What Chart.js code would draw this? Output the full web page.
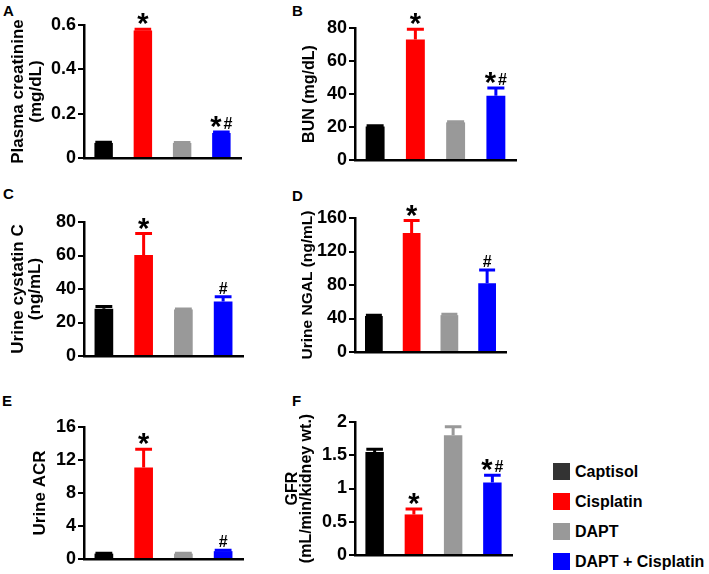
<!DOCTYPE html>
<html>
<head>
<meta charset="utf-8">
<script src="https://cdn.jsdelivr.net/npm/chart.js@4"></script>
<style>
body { margin:0; width:709px; height:574px; overflow:hidden; background:#fff; position:relative; font-family:'Liberation Sans', Arial, sans-serif; }
canvas { position:absolute; }
.letter { position:absolute; font-weight:bold; font-size:15px; line-height:15px; color:#000; }
.legend { position:absolute; left:553px; display:flex; align-items:center; font-weight:bold; font-size:16px; line-height:17px; color:#000; }
.legend span { display:inline-block; width:17px; height:17px; margin-right:5px; }
</style>
</head>
<body>
<div class="letter" style="left:3px;top:3px">A</div>
<div class="letter" style="left:292px;top:3px">B</div>
<div class="letter" style="left:3px;top:186px">C</div>
<div class="letter" style="left:292px;top:188px">D</div>
<div class="letter" style="left:2px;top:393px">E</div>
<div class="letter" style="left:292px;top:393px">F</div>

<canvas id="chartA" width="250" height="180" style="left:0;top:0"></canvas>
<canvas id="chartB" width="250" height="180" style="left:270px;top:0"></canvas>
<canvas id="chartC" width="250" height="195" style="left:0;top:185px"></canvas>
<canvas id="chartD" width="250" height="195" style="left:270px;top:185px"></canvas>
<canvas id="chartE" width="250" height="200" style="left:0;top:385px"></canvas>
<canvas id="chartF" width="250" height="200" style="left:270px;top:385px"></canvas>

<div id="legend"></div>

<script>
// groups and colours
const groups = ['Captisol', 'Cisplatin', 'DAPT', 'DAPT + Cisplatin'];
const barColors = ['#000000', '#ff0000', '#999999', '#0000ff'];
const legendColors = ['#333333', '#ff0000', '#999999', '#0000ff'];

// A - plasma creatinine
const creatinine = [0.068, 0.575, 0.068, 0.113];
const creatinineErr = [0.003, 0.006, 0.002, 0.004];
const creatinineMarks = ['', '*', '', '*#'];
const creatinineTicks = ['0', '0.2', '0.4', '0.6'];

// B - BUN
const bun = [20.3, 73, 22.8, 39];
const bunErr = [0.5, 6.3, 0.4, 4.7];
const bunMarks = ['', '*', '', '*#'];
const bunTicks = ['0', '20', '40', '60', '80'];

// C - urine cystatin C
const cystatin = [28.2, 60.3, 27.8, 32.6];
const cystatinErr = [1.4, 12.8, 0.3, 2.7];
const cystatinMarks = ['', '*', '', '#'];
const cystatinTicks = ['0', '20', '40', '60', '80'];

// D - urine NGAL
const ngal = [43, 142, 44, 82];
const ngalErr = [1, 15, 1, 16];
const ngalMarks = ['', '*', '', '#'];
const ngalTicks = ['0', '40', '80', '120', '160'];

// E - urine ACR
const acr = [0.65, 11.1, 0.65, 0.95];
const acrErr = [0.05, 2.2, 0.05, 0.1];
const acrMarks = ['', '*', '', '#'];
const acrTicks = ['0', '4', '8', '12', '16'];

// F - GFR
const gfr = [1.55, 0.61, 1.8, 1.09];
const gfrErr = [0.04, 0.08, 0.13, 0.11];
const gfrMarks = ['', '*', '', '*#'];
const gfrTicks = ['0', '0.5', '1', '1.5', '2'];

Chart.defaults.font.family = "'Liberation Sans', Arial, sans-serif";
Chart.defaults.color = '#000';

function errorPlugin(values, errors, marks) {
    return {
        id: 'errorBars',
        afterDatasetsDraw(chart) {
            const ctx = chart.ctx;
            const yScale = chart.scales.y;
            chart.getDatasetMeta(0).data.forEach((bar, i) => {
                const top = yScale.getPixelForValue(values[i] + errors[i]);
                const half = bar.width * 0.45;
                ctx.save();
                ctx.strokeStyle = barColors[i];
                ctx.lineWidth = 3;
                ctx.beginPath();
                ctx.moveTo(bar.x, bar.y);
                ctx.lineTo(bar.x, top);
                ctx.moveTo(bar.x - half, top);
                ctx.lineTo(bar.x + half, top);
                ctx.stroke();

                // significance marks
                const bottom = top - 3;
                ctx.fillStyle = '#000';
                ctx.textAlign = 'center';
                ctx.textBaseline = 'alphabetic';
                const star = (x) => {
                    ctx.font = "bold 29px 'Liberation Sans', Arial, sans-serif";
                    ctx.fillText('*', x, bottom + 7);
                };
                const hash = (x) => {
                    ctx.font = "bold 16px 'Liberation Sans', Arial, sans-serif";
                    ctx.fillText('#', x, bottom);
                };
                if (marks[i] === '*') star(bar.x);
                if (marks[i] === '#') hash(bar.x);
                if (marks[i] === '*#') { star(bar.x - 5.5); hash(bar.x + 6.5); }
                ctx.restore();
            });
        }
    };
}

function createPanel(id, p) {
    new Chart(document.getElementById(id), {
        type: 'bar',
        data: {
            labels: groups,
            datasets: [{
                data: p.values,
                backgroundColor: barColors,
                borderWidth: 0,
                barPercentage: 0.47,
                categoryPercentage: 1,
            }],
        },
        options: {
            responsive: false,
            animation: false,
            layout: { padding: p.padding },
            plugins: { legend: { display: false }, tooltip: { enabled: false } },
            scales: {
                x: {
                    grid: { display: false },
                    ticks: { display: false },
                    border: { display: true, color: '#000', width: 2.5 },
                },
                y: {
                    min: 0,
                    max: p.max,
                    ticks: {
                        stepSize: p.step,
                        color: '#000',
                        padding: 2,
                        font: { size: 18, weight: 'bold' },
                        callback: (v, i) => p.ticks[i],
                    },
                    grid: { drawOnChartArea: false, tickLength: 6, color: '#000', lineWidth: 2 },
                    border: { display: true, color: '#000', width: 2.5 },
                    title: {
                        display: true,
                        text: p.title,
                        color: '#000',
                        font: { size: p.titleSize, weight: 'bold', lineHeight: p.titleLine },
                        padding: { top: p.titlePad, bottom: 0 },
                    },
                    afterFit: (s) => { s.width = p.axisWidth; },
                },
            },
        },
        plugins: [errorPlugin(p.values, p.errors, p.marks)],
    });
}

createPanel('chartA', {
    values: creatinine, errors: creatinineErr, marks: creatinineMarks, ticks: creatinineTicks,
    max: 0.6, step: 0.2, title: ['Plasma creatinine', '(mg/dL)'], titleSize: 17, titleLine: 1.03, titlePad: 10,
    axisWidth: 84, padding: { left: 0, top: 25, right: 9, bottom: 14 },
});
createPanel('chartB', {
    values: bun, errors: bunErr, marks: bunMarks, ticks: bunTicks,
    max: 80, step: 20, title: 'BUN (mg/dL)', titleSize: 16, titleLine: 1.1, titlePad: 31,
    axisWidth: 85, padding: { left: 0, top: 28, right: 4, bottom: 12 },
});
createPanel('chartC', {
    values: cystatin, errors: cystatinErr, marks: cystatinMarks, ticks: cystatinTicks,
    max: 80, step: 20, title: ['Urine cystatin C', '(ng/mL)'], titleSize: 17, titleLine: 1.0, titlePad: 10,
    axisWidth: 84, padding: { left: 0, top: 37, right: 7, bottom: 16 },
});
createPanel('chartD', {
    values: ngal, errors: ngalErr, marks: ngalMarks, ticks: ngalTicks,
    max: 160, step: 40, title: 'Urine NGAL (ng/mL)', titleSize: 15.5, titleLine: 1.1, titlePad: 29,
    axisWidth: 85, padding: { left: 0, top: 33, right: 14, bottom: 20 },
});
createPanel('chartE', {
    values: acr, errors: acrErr, marks: acrMarks, ticks: acrTicks,
    max: 16, step: 4, title: 'Urine ACR', titleSize: 17, titleLine: 1.1, titlePad: 31,
    axisWidth: 84, padding: { left: 0, top: 42, right: 7, bottom: 18 },
});
createPanel('chartF', {
    values: gfr, errors: gfrErr, marks: gfrMarks, ticks: gfrTicks,
    max: 2, step: 0.5, title: ['GFR', '(mL/min/kidney wt.)'], titleSize: 16, titleLine: 0.92, titlePad: 15,
    axisWidth: 85, padding: { left: 0, top: 37, right: 8, bottom: 22 },
});

// legend
const legendBox = document.getElementById('legend');
groups.forEach((g, i) => {
    const row = document.createElement('div');
    row.className = 'legend';
    row.style.top = (463 + i * 30) + 'px';
    row.innerHTML = '<span style="background:' + legendColors[i] + '"></span>' + g;
    legendBox.appendChild(row);
});
</script>
</body>
</html>
